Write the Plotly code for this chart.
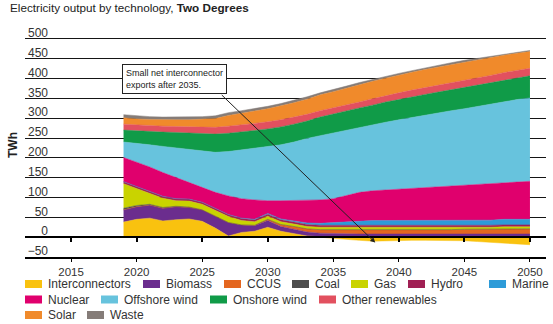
import plotly.graph_objects as go

# ---------------- data (TWh) ----------------
years = list(range(2019, 2051))

interconnectors = [38, 45, 48, 41, 44, 46, 40, 23, 3, 12, 15, 25, 15, 9, 3, 1,
                   -3, -6, -8, -10, -9, -8, -8, -8, -8, -8, -9, -11, -13, -15, -17, -19]
biomass = [31, 32, 33, 32, 33, 29, 29, 29, 34, 19, 14, 17, 12, 11, 10, 9, 9,
           8, 8, 8, 8, 8, 8, 8, 8, 8, 8, 8, 8, 8, 8, 8]
ccus = [0, 0, 0, 0, 0, 0, 0, 0, 0, 0, 1, 3, 5, 7, 8, 9, 10, 10, 11, 11, 11, 11,
        11, 11, 11, 11, 12, 12, 12, 13, 13, 13]
coal = [4, 3, 2, 2, 1, 1, 0, 0, 0, 0, 0, 0, 0, 0, 0, 0, 0, 0, 0, 0, 0, 0, 0, 0,
        0, 0, 0, 0, 0, 0, 0, 0]
gas = [62, 43, 27, 23, 14, 15, 14, 16, 15, 11, 9, 8, 7, 6, 6, 6, 6, 6, 6, 6, 6,
       6, 6, 6, 6, 6, 5, 5, 5, 5, 5, 5]
hydro = [5] * 32
marine = [0, 0, 0, 0, 0, 0, 0, 0, 0, 1, 1, 2, 2, 3, 4, 5, 7, 9, 11, 12, 12, 12,
          12, 12, 12, 12, 13, 13, 13, 14, 14, 14]
nuclear = [61, 61, 62, 60, 53, 41, 38, 40, 47, 49, 49, 32, 46, 52, 57, 59, 60,
           67, 72, 75, 77, 78, 80, 82, 85, 87, 88, 90, 92, 92, 94, 96]
offshore_wind = [39, 48, 56, 66, 75, 84, 92, 101, 112, 123, 130, 136, 141, 147,
                 156, 162, 166, 165, 164, 166, 171, 176, 180, 184, 187, 190, 193,
                 197, 201, 205, 208, 210]
onshore_wind = [30, 31, 33, 36, 39, 42, 44, 46, 46, 45, 45, 45, 45, 45, 44, 47,
                48, 48, 49, 50, 51, 51, 52, 52, 52, 53, 54, 53, 54, 54, 55, 56]
other_renewables = [15, 15, 15, 15, 15, 15, 16, 17, 18, 18, 18, 18, 18, 18, 17,
                    16, 15, 15, 15, 16, 16, 17, 17, 17, 17, 18, 18, 18, 18, 19, 19, 19]
solar = [16, 15, 16, 16, 17, 18, 19, 22, 27, 29, 31, 33, 35, 36, 38, 40, 41, 43,
         44, 44, 44, 45, 45, 46, 46, 46, 46, 46, 45, 44, 43, 42]
waste = [8, 8, 7, 7, 7, 7, 7, 7, 7, 7, 6, 6, 6, 6, 6, 5, 5, 5, 5, 5, 5, 4, 4, 4,
         4, 4, 4, 4, 4, 3, 3, 3]

series_names = ["Interconnectors", "Biomass", "CCUS", "Coal", "Gas", "Hydro", "Marine",
                "Nuclear", "Offshore wind", "Onshore wind", "Other renewables",
                "Solar", "Waste"]
series_values = [interconnectors, biomass, ccus, coal, gas, hydro, marine, nuclear,
                 offshore_wind, onshore_wind, other_renewables, solar, waste]
series_colors = ["#F9C20F", "#6B2D8E", "#E4661F", "#4D4D4D", "#C9D300", "#A01F54",
                 "#2D9BD8", "#E0006D", "#67C3DD", "#109B48", "#E2505F", "#F08A2B",
                 "#857C78"]

x_ticks = [2015, 2020, 2025, 2030, 2035, 2040, 2045, 2050]
y_ticks = [-50, 0, 50, 100, 150, 200, 250, 300, 350, 400, 450, 500]

# ---------------- layout geometry ----------------
W, H = 553, 324
L, R, T, B = 25, 7, 33, 67
PW, PH = W - L - R, H - T - B
px_per_year = 13.11
x_min = 2015 - (71.1 - L) / px_per_year
x_max = x_min + PW / px_per_year
px_per_unit = 0.3965
y_min = -50
y_max = y_min + PH / px_per_unit


def paper_x(px):
    return (px - L) / PW


def paper_y(py):
    return (H - B - py) / PH


FONT = "Liberation Sans, Arial, sans-serif"
TXT = "#333333"

fig = go.Figure()

for name, vals, col in zip(series_names, series_values, series_colors):
    yv = [max(v, 0) for v in vals] if name == "Interconnectors" else vals
    fig.add_trace(go.Scatter(
        x=years, y=yv, stackgroup="pos", mode="lines",
        line=dict(width=0.5, color=col), fillcolor=col, name=name,
        showlegend=False))

# negative part of interconnectors (net exports) stacks below zero;
# drawn on the overlay axes (same ranges) that carry the zero line and y labels
fig.add_trace(go.Scatter(
    x=years, y=[min(v, 0) for v in interconnectors], stackgroup="neg",
    mode="lines", line=dict(width=0.5, color=series_colors[0]),
    fillcolor=series_colors[0], name="Interconnectors", showlegend=False,
    xaxis="x2", yaxis="y2"))

# ---------------- custom legend (layout decoration) ----------------
legend_rows_y = [284, 299.5, 315]
legend_pos = {
    "Interconnectors": (25, 0), "Biomass": (143, 0), "CCUS": (224, 0),
    "Coal": (292, 0), "Gas": (351, 0), "Hydro": (408, 0), "Marine": (489, 0),
    "Nuclear": (25, 1), "Offshore wind": (101, 1), "Onshore wind": (210, 1),
    "Other renewables": (319, 1), "Solar": (25, 2), "Waste": (87, 2),
}
shapes = []
annotations = []
for name, col in zip(series_names, series_colors):
    sx, row = legend_pos[name]
    cy = legend_rows_y[row]
    shapes.append(dict(type="rect", xref="paper", yref="paper",
                       x0=paper_x(sx), x1=paper_x(sx + 17),
                       y0=paper_y(cy + 4), y1=paper_y(cy - 4),
                       fillcolor=col, line=dict(width=0)))
    annotations.append(dict(text=name, xref="paper", yref="paper",
                            x=paper_x(sx + 21), y=paper_y(cy),
                            xanchor="left", yanchor="middle", showarrow=False,
                            font=dict(family=FONT, size=12, color=TXT)))

# callout box
annotations.append(dict(
    text="Small net interconnector<br>exports after 2035.",
    xref="x", yref="y", x=x_min + (122 - L) / px_per_year,
    y=(237.3 - 64) / px_per_unit, xanchor="left", yanchor="top",
    align="left", showarrow=False, bgcolor="white", bordercolor="#222",
    borderwidth=1, borderpad=3, font=dict(family=FONT, size=9, color="#222")))
# callout arrow
annotations.append(dict(
    text="", xref="x", yref="y", x=2038.2, y=-13.6, ax=-155, ay=-149,
    showarrow=True, arrowhead=2, arrowsize=1, arrowwidth=1, arrowcolor="#222"))

fig.update_layout(
    width=W, height=H, autosize=False,
    margin=dict(l=L, r=R, t=T, b=B, pad=0),
    paper_bgcolor="white", plot_bgcolor="white",
    font=dict(family=FONT, size=12, color=TXT),
    showlegend=False,
    title=dict(text="Electricity output by technology, <b>Two Degrees</b>",
               x=10 / W, xanchor="left", xref="container",
               y=1 - 8 / H, yanchor="middle", yref="container",
               font=dict(family=FONT, size=11.7, color="#222")),
    xaxis=dict(range=[x_min, x_max], tickvals=x_ticks, ticks="outside",
               ticklen=3, tickwidth=1, tickcolor="black", showline=True,
               linecolor="black", linewidth=1.5, showgrid=False,
               zeroline=False, tickfont=dict(size=11.5, color=TXT),
               anchor="y", fixedrange=True),
    xaxis2=dict(range=[x_min, x_max], tickvals=x_ticks, ticks="outside",
                ticklen=4, tickwidth=1.5, tickcolor="black",
                showticklabels=False, showline=True, linecolor="black",
                linewidth=2, showgrid=False, zeroline=False,
                overlaying="x", anchor="free",
                position=(0 - y_min) / (y_max - y_min)),
    yaxis=dict(range=[y_min, y_max], tickvals=y_ticks, showticklabels=False,
               ticks="", showgrid=True, gridcolor="#151515", gridwidth=1,
               zeroline=True, zerolinecolor="black", zerolinewidth=2,
               title=dict(text="<b>TWh</b>", standoff=3,
                          font=dict(size=12, color="#222"))),
    yaxis2=dict(range=[y_min, y_max], tickvals=y_ticks, overlaying="y",
                anchor="free", position=paper_x(48), side="left",
                showgrid=False, zeroline=False, ticks="", showline=False,
                tickfont=dict(size=12, color=TXT), ticklabelshift=-6),
    shapes=shapes,
    annotations=annotations,
)

fig.write_html("out.html")
